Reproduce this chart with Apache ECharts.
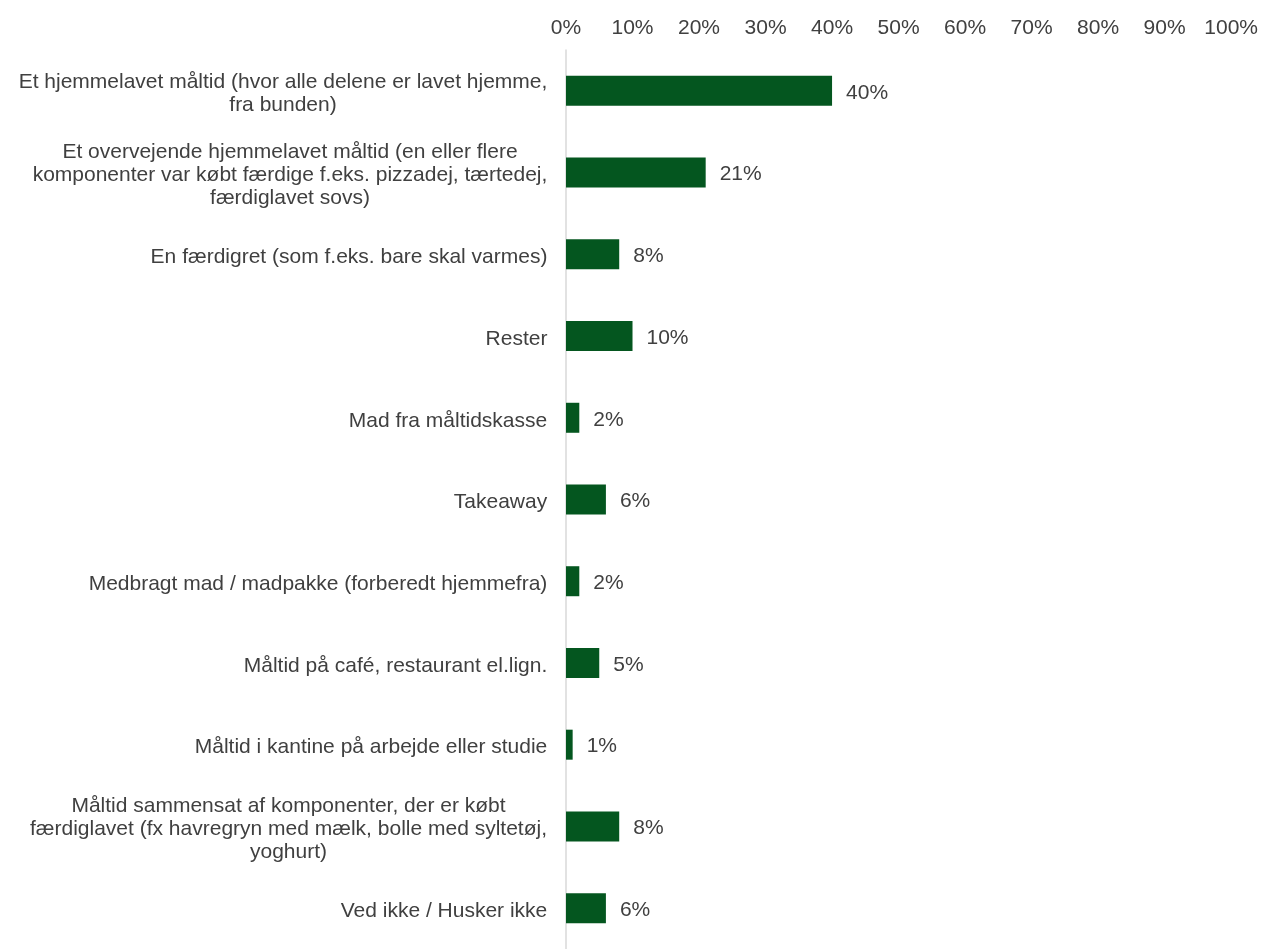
<!DOCTYPE html>
<html>
<head>
<meta charset="utf-8">
<title>Måltidstyper</title>
<script src="https://cdn.jsdelivr.net/npm/echarts@6/dist/echarts.min.js"></script>
<style>
  html, body { margin: 0; padding: 0; background: #ffffff; }
  #chart { width: 1261px; height: 949px; }
</style>
</head>
<body>
<div id="chart"></div>
<script>
// Answer categories (line breaks as they should wrap)
const categories = [
  'Et hjemmelavet måltid (hvor alle delene er lavet hjemme,\nfra bunden)',
  'Et overvejende hjemmelavet måltid (en eller flere\nkomponenter var købt færdige f.eks. pizzadej, tærtedej,\nfærdiglavet sovs)',
  'En færdigret (som f.eks. bare skal varmes)',
  'Rester',
  'Mad fra måltidskasse',
  'Takeaway',
  'Medbragt mad / madpakke (forberedt hjemmefra)',
  'Måltid på café, restaurant el.lign.',
  'Måltid i kantine på arbejde eller studie',
  'Måltid sammensat af komponenter, der er købt\nfærdiglavet (fx havregryn med mælk, bolle med syltetøj,\nyoghurt)',
  'Ved ikke / Husker ikke'
];

// Share of respondents, in percent
const shares = [40, 21, 8, 10, 2, 6, 2, 5, 1, 8, 6];

// Percent axis ticks
const axisMin = 0;
const axisMax = 100;
const axisStep = 10;

const FONT_FAMILY = '"Liberation Sans", Arial, sans-serif';
const FONT_SIZE = 21;
const TEXT_COLOR = '#404040';
const BAR_COLOR = '#04561f';

// Multi-line category labels: lines are centred inside a block that is
// right-aligned against the axis. Each label gets a rich style whose width
// equals its widest line.
const measureCtx = document.createElement('canvas').getContext('2d');
measureCtx.font = FONT_SIZE + 'px ' + FONT_FAMILY;
const rich = {};
categories.forEach((cat, i) => {
  const w = Math.max(...cat.split('\n').map(l => measureCtx.measureText(l).width));
  rich['c' + i] = {
    width: Math.ceil(w) + 1,
    align: 'center',
    fontSize: FONT_SIZE,
    fontFamily: FONT_FAMILY,
    color: TEXT_COLOR,
    lineHeight: 23
  };
});

const chart = echarts.init(document.getElementById('chart'), null, { renderer: 'canvas' });

chart.setOption({
  animation: false,
  backgroundColor: '#ffffff',
  textStyle: { fontFamily: FONT_FAMILY },
  grid: { left: 566, right: 29, top: 50, height: 907, containLabel: false },
  xAxis: {
    type: 'value',
    position: 'top',
    min: axisMin,
    max: axisMax,
    interval: axisStep,
    axisLine: { show: false },
    axisTick: { show: false },
    splitLine: { show: false },
    axisLabel: {
      formatter: '{value}%',
      fontSize: FONT_SIZE,
      fontFamily: FONT_FAMILY,
      color: TEXT_COLOR,
      margin: 11
    }
  },
  yAxis: {
    type: 'category',
    inverse: true,
    data: categories,
    axisLine: { show: true, lineStyle: { color: '#d9d9d9', width: 1.5 } },
    axisTick: { show: false },
    splitLine: { show: false },
    axisLabel: {
      margin: 18,
      align: 'right',
      padding: [6, 0, 0, 0],
      rich: rich,
      formatter: (value, index) =>
        value.split('\n').map(l => '{c' + index + '|' + l + '}').join('\n')
    }
  },
  series: [{
    type: 'bar',
    data: shares,
    barWidth: 30,
    itemStyle: { color: BAR_COLOR },
    label: {
      show: true,
      position: 'right',
      distance: 14,
      offset: [0, 2],
      formatter: '{c}%',
      fontSize: FONT_SIZE,
      fontFamily: FONT_FAMILY,
      color: TEXT_COLOR
    }
  }]
});
</script>
</body>
</html>
